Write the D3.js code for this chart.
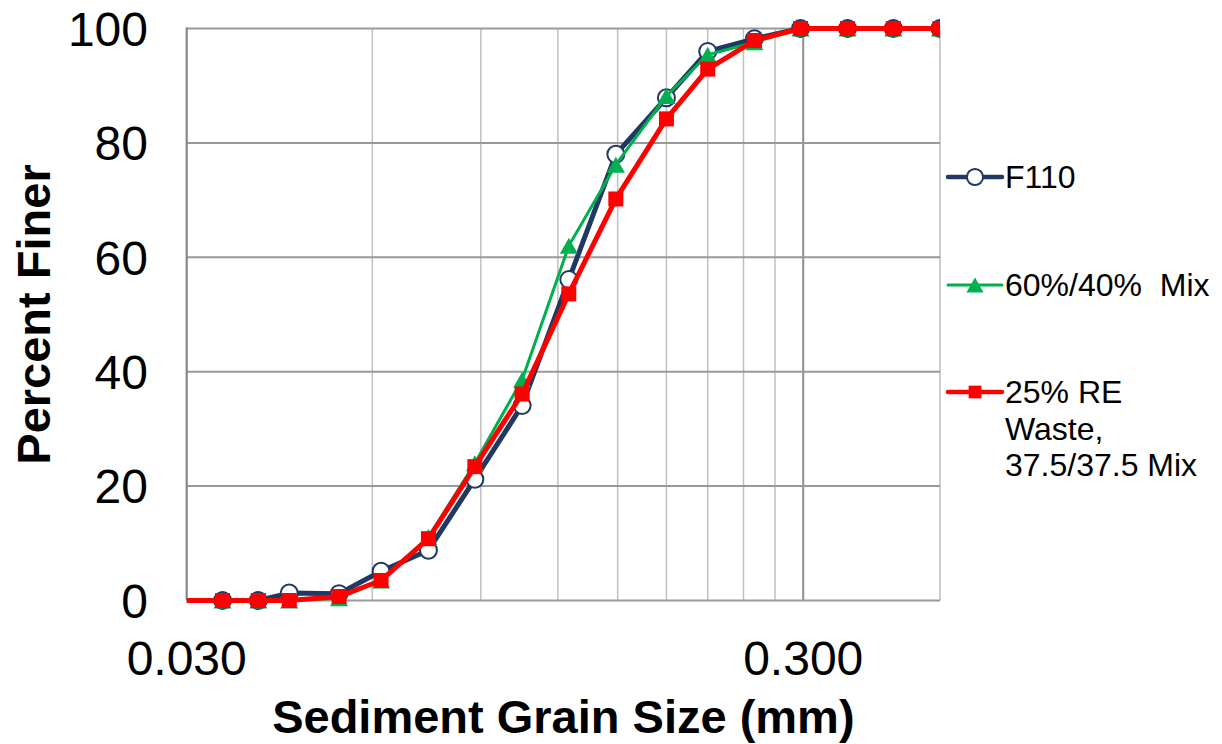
<!DOCTYPE html>
<html>
<head>
<meta charset="utf-8">
<script src="https://cdn.jsdelivr.net/npm/d3@7"></script>
<style>
  html, body { margin: 0; padding: 0; background: #fff; }
  svg { display: block; font-family: "Liberation Sans", Arial, sans-serif; }
</style>
</head>
<body>
<svg id="chart" width="1222" height="744"></svg>
<script>
// sieve sizes (mm)
const sizes = [0.0343, 0.0392, 0.044, 0.053, 0.062, 0.074, 0.088, 0.105, 0.125, 0.149, 0.18, 0.21, 0.25, 0.297, 0.354, 0.42, 0.5];
// percent finer
const f110 = [0, 0, 1.3, 1.2, 5.1, 8.8, 21.2, 34.1, 56.1, 78.0, 87.9, 96.0, 98.2, 100, 100, 100, 100];
const mix6040 = [0, 0, 0, 0.4, 3.5, 11.1, 24.0, 38.6, 62.0, 76.2, 88.2, 95.4, 97.6, 100, 100, 100, 100];
// the RE series has one extra finer point below the axis minimum
const sizesRE = [0.025, ...sizes];
const re25 = [0, 0, 0, 0, 0.7, 3.5, 10.8, 23.4, 36.1, 53.6, 70.2, 84.2, 92.9, 97.9, 100, 100, 100, 100];

const yTicks = [0, 20, 40, 60, 80, 100];
const xLabels = [0.03, 0.3];
const minorGrid = [0.06, 0.09, 0.12, 0.15, 0.18, 0.21, 0.24, 0.27];

const series = [
  { name: "F110", xs: sizes, ys: f110, color: "#1f3864", width: 5, marker: "circle" },
  { name: "60%/40%  Mix", xs: sizes, ys: mix6040, color: "#00b050", width: 3, marker: "triangle" },
  { name: ["25% RE", "Waste,", "37.5/37.5 Mix"], xs: sizesRE, ys: re25, color: "#ff0000", width: 5, marker: "square" }
];

const plotL = 186.7, plotR = 940, plotT = 28.5, plotB = 600.5;

const x = d3.scaleLog().domain([0.03, 0.5]).range([plotL, plotR]);
const y = d3.scaleLinear().domain([0, 100]).range([plotB, plotT]);

const svg = d3.select("#chart");

svg.append("defs").append("clipPath").attr("id", "plot")
  .append("rect")
  .attr("x", plotL).attr("y", 0)
  .attr("width", plotR - plotL).attr("height", plotB + 20);

// grid
const grid = svg.append("g");
grid.selectAll("line.v")
  .data(minorGrid)
  .join("line")
  .attr("x1", d => x(d)).attr("x2", d => x(d))
  .attr("y1", plotT).attr("y2", plotB)
  .attr("stroke", "#c0c0c0").attr("stroke-width", 1.5);

grid.append("line")
  .attr("x1", x(0.3)).attr("x2", x(0.3))
  .attr("y1", plotT).attr("y2", plotB)
  .attr("stroke", "#8f8f8f").attr("stroke-width", 2);

grid.append("line")
  .attr("x1", plotR).attr("x2", plotR)
  .attr("y1", plotT).attr("y2", plotB)
  .attr("stroke", "#bdbdbd").attr("stroke-width", 1.5);

grid.selectAll("line.h")
  .data(yTicks)
  .join("line")
  .attr("x1", plotL).attr("x2", plotR)
  .attr("y1", d => y(d)).attr("y2", d => y(d))
  .attr("stroke", "#999").attr("stroke-width", 2);

// left axis line
svg.append("line")
  .attr("x1", plotL).attr("x2", plotL)
  .attr("y1", plotT - 1).attr("y2", plotB)
  .attr("stroke", "#868686").attr("stroke-width", 2.2);

// y tick labels
svg.append("g")
  .selectAll("text")
  .data(yTicks)
  .join("text")
  .attr("x", 148)
  .attr("y", d => y(d))
  .attr("dy", "0.36em")
  .attr("text-anchor", "end")
  .attr("font-size", 48)
  .attr("fill", "#000")
  .text(d => d);

// x tick labels
svg.append("g")
  .selectAll("text")
  .data(xLabels)
  .join("text")
  .attr("x", d => x(d))
  .attr("y", 675)
  .attr("text-anchor", "middle")
  .attr("font-size", 48)
  .attr("fill", "#000")
  .text(d => d3.format(".3f")(d));

// axis titles
svg.append("text")
  .attr("x", (plotL + plotR) / 2)
  .attr("y", 733)
  .attr("text-anchor", "middle")
  .attr("font-size", 47)
  .attr("font-weight", "bold")
  .text("Sediment Grain Size (mm)");

svg.append("text")
  .attr("transform", `translate(50,${(plotT + plotB) / 2}) rotate(-90)`)
  .attr("text-anchor", "middle")
  .attr("font-size", 47)
  .attr("font-weight", "bold")
  .text("Percent Finer");

function drawMarker(g, type, color, scale) {
  const s = scale || 1;
  if (type === "circle") {
    g.append("circle").attr("r", 8.5 * s)
      .attr("fill", "#fff").attr("stroke", color).attr("stroke-width", 2);
  } else if (type === "triangle") {
    const w = 9 * s, h = 8 * s;
    g.append("path").attr("d", `M0,${-h}L${w},${h}L${-w},${h}Z`).attr("fill", color);
  } else {
    const a = 7.5 * s;
    g.append("rect").attr("x", -a).attr("y", -a).attr("width", 2 * a).attr("height", 2 * a).attr("fill", color);
  }
}

const line = d3.line().x(d => x(d[0])).y(d => y(d[1]));

const plot = svg.append("g").attr("clip-path", "url(#plot)");
series.forEach(s => {
  const pts = s.xs.map((v, i) => [v, s.ys[i]]);
  plot.append("path")
    .datum(pts)
    .attr("fill", "none")
    .attr("stroke", s.color)
    .attr("stroke-width", s.width)
    .attr("stroke-linejoin", "round")
    .attr("d", line);
  plot.selectAll(null)
    .data(pts)
    .join("g")
    .attr("transform", d => `translate(${x(d[0])},${y(d[1])})`)
    .each(function () { drawMarker(d3.select(this), s.marker, s.color); });
});

// legend
const legendY = [177, 285, 392];
const legend = svg.append("g");
series.forEach((s, i) => {
  const g = legend.append("g").attr("transform", `translate(0,${legendY[i]})`);
  g.append("line")
    .attr("x1", 948).attr("x2", 1002)
    .attr("stroke", s.color)
    .attr("stroke-width", s.width === 3 ? 3 : 4.5)
    .attr("stroke-linecap", "round");
  const m = g.append("g").attr("transform", "translate(975,0)");
  drawMarker(m, s.marker, s.color, s.marker === "square" ? 0.85 : 0.95);
  const names = Array.isArray(s.name) ? s.name : [s.name];
  const t = g.append("text")
    .attr("x", 1005)
    .attr("font-size", 32)
    .attr("fill", "#000")
    .attr("xml:space", "preserve");
  names.forEach((n, j) => {
    t.append("tspan").attr("x", 1005).attr("y", 11 + j * 36.5).text(n);
  });
});
</script>
</body>
</html>
